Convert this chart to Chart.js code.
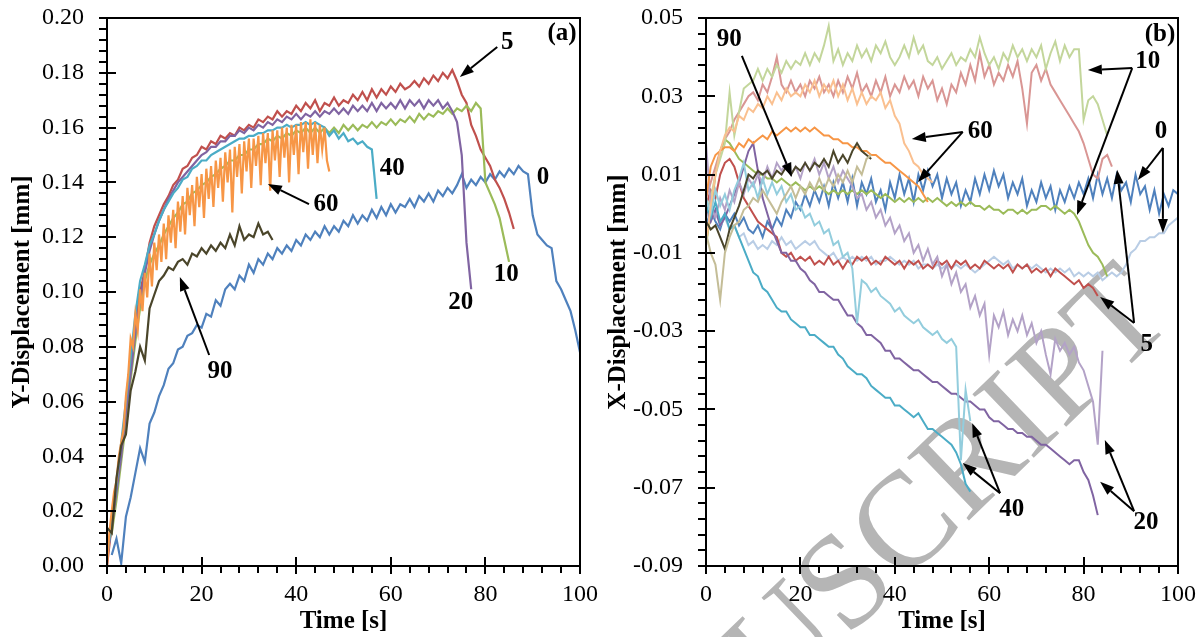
<!DOCTYPE html>
<html><head><meta charset="utf-8">
<script src="https://cdn.jsdelivr.net/npm/chart.js@4.4.1/dist/chart.umd.min.js"></script>
<style>
html,body{margin:0;padding:0;background:#fff;width:1204px;height:637px;overflow:hidden;}
canvas{position:absolute;top:0;}
#ca{left:0;}
#cb{left:598px;}
</style></head><body>
<canvas id="ca" width="600" height="637" style="width:600px;height:637px"></canvas>
<canvas id="cb" width="606" height="637" style="width:606px;height:637px"></canvas>
<script>
// ---------- sampling times [s] ----------
const time = [0,1,2,3,4,5,6,7,8,9,10,11,12,13,14,15,16,17,18,19,20,21,22,23,24,25,26,27,28,29,30,31,32,33,34,35,36,37,38,39,40,41,42,43,44,45,46,47,48,49,50,51,52,53,54,55,56,57,58,59,60,61,62,63,64,65,66,67,68,69,70,71,72,73,74,75,76,77,78,79,80,81,82,83,84,85,86,87,88,89,90,91,92,93,94,95,96,97,98,99,100];
// finer sampling used for the very noisy 60 s series of panel (a)
const timeHalf = [0,0.5,1,1.5,2,2.5,3,3.5,4,4.5,5,5.5,6,6.5,7,7.5,8,8.5,9,9.5,10,10.5,11,11.5,12,12.5,13,13.5,14,14.5,15,15.5,16,16.5,17,17.5,18,18.5,19,19.5,20,20.5,21,21.5,22,22.5,23,23.5,24,24.5,25,25.5,26,26.5,27,27.5,28,28.5,29,29.5,30,30.5,31,31.5,32,32.5,33,33.5,34,34.5,35,35.5,36,36.5,37,37.5,38,38.5,39,39.5,40,40.5,41,41.5,42,42.5,43,43.5,44,44.5,45,45.5,46,46.5,47];

// ---------- tick labels ----------
const xTicks = [0,20,40,60,80,100];
const yTicksA = [0,0.02,0.04,0.06,0.08,0.10,0.12,0.14,0.16,0.18,0.20];
const yTicksB = [-0.09,-0.07,-0.05,-0.03,-0.01,0.01,0.03,0.05];

// ---------- panel (a): Y-displacement [mm] ----------
const seriesA = ['0','5','10','20','40','60','90'];
const a0 = [null,0.004,0.010,0.001,0.018,0.025,0.034,0.043,0.038,0.052,
0.056,0.062,0.066,0.072,0.074,0.079,0.080,0.084,0.085,0.088,
0.087,0.092,0.091,0.097,0.095,0.101,0.103,0.101,0.106,0.104,
0.110,0.107,0.112,0.110,0.114,0.112,0.116,0.114,0.117,0.115,
0.119,0.117,0.121,0.119,0.122,0.120,0.124,0.121,0.124,0.122,
0.126,0.124,0.128,0.125,0.128,0.126,0.130,0.127,0.131,0.128,
0.132,0.129,0.132,0.131,0.134,0.131,0.135,0.133,0.136,0.133,
0.137,0.135,0.138,0.136,0.139,0.143,0.138,0.141,0.139,0.142,
0.140,0.143,0.141,0.144,0.142,0.145,0.143,0.146,0.144,0.143,
0.128,0.121,0.119,0.117,0.116,0.104,0.101,0.097,0.093,0.086,
0.078];
const a5 = [0.000,0.015,0.028,0.042,0.058,0.072,0.088,0.100,0.108,0.118,
0.124,0.128,0.132,0.135,0.139,0.141,0.145,0.146,0.149,0.150,
0.153,0.152,0.155,0.154,0.157,0.156,0.158,0.157,0.160,0.159,
0.161,0.160,0.163,0.162,0.164,0.163,0.166,0.164,0.166,0.165,
0.168,0.166,0.169,0.167,0.170,0.166,0.169,0.168,0.171,0.168,
0.170,0.169,0.172,0.170,0.173,0.170,0.174,0.171,0.174,0.172,
0.175,0.173,0.176,0.174,0.175,0.177,0.175,0.178,0.176,0.179,
0.177,0.180,0.178,0.181,0.177,0.172,0.169,0.161,0.157,0.152,
0.149,0.146,0.141,0.138,0.134,0.129,0.123];
const a10 = [0.008,0.012,0.024,0.038,0.052,0.068,0.082,0.094,0.104,0.110,
0.114,0.117,0.121,0.124,0.127,0.129,0.132,0.133,0.136,0.137,
0.139,0.140,0.142,0.143,0.145,0.146,0.148,0.148,0.150,0.150,
0.152,0.152,0.154,0.154,0.156,0.155,0.157,0.156,0.158,0.157,
0.159,0.158,0.160,0.158,0.160,0.158,0.160,0.158,0.160,0.158,
0.161,0.159,0.161,0.159,0.161,0.160,0.162,0.160,0.162,0.161,
0.163,0.161,0.163,0.162,0.164,0.162,0.165,0.163,0.165,0.164,
0.166,0.165,0.167,0.165,0.167,0.166,0.168,0.166,0.169,0.167,
0.140,0.136,0.132,0.127,0.119,0.111];
const a20 = [0.004,0.014,0.027,0.040,0.056,0.070,0.085,0.097,0.107,0.115,
0.121,0.126,0.130,0.134,0.137,0.140,0.142,0.144,0.146,0.148,
0.150,0.151,0.153,0.153,0.155,0.155,0.157,0.157,0.159,0.158,
0.160,0.159,0.161,0.160,0.162,0.161,0.163,0.162,0.164,0.163,
0.165,0.163,0.165,0.164,0.166,0.164,0.166,0.165,0.167,0.165,
0.167,0.165,0.168,0.166,0.168,0.166,0.169,0.166,0.169,0.167,
0.169,0.167,0.170,0.167,0.170,0.168,0.170,0.167,0.170,0.168,
0.170,0.167,0.169,0.166,0.162,0.150,0.118,0.101];
const a40 = [0.003,0.016,0.030,0.045,0.060,0.076,0.092,0.104,0.110,0.117,
0.121,0.126,0.130,0.133,0.136,0.138,0.141,0.142,0.145,0.146,
0.148,0.148,0.150,0.151,0.152,0.153,0.154,0.155,0.156,0.156,
0.157,0.157,0.158,0.158,0.159,0.159,0.160,0.160,0.161,0.160,
0.161,0.161,0.162,0.161,0.162,0.161,0.160,0.157,0.159,0.156,
0.158,0.155,0.156,0.154,0.155,0.153,0.152,0.134];
// 60 s series, sampled every 0.5 s (timeHalf)
const a60 = [0.000,0.012,0.020,0.027,0.031,0.040,0.045,0.050,0.062,0.070,
0.083,0.080,0.092,0.086,0.101,0.093,0.107,0.098,0.114,0.102,
0.118,0.108,0.121,0.111,0.125,0.112,0.128,0.118,0.130,0.116,
0.133,0.122,0.135,0.121,0.138,0.128,0.139,0.124,0.142,0.131,
0.143,0.127,0.145,0.134,0.146,0.131,0.148,0.138,0.149,0.133,
0.151,0.140,0.152,0.129,0.153,0.142,0.154,0.136,0.155,0.144,
0.156,0.138,0.156,0.146,0.157,0.139,0.158,0.147,0.158,0.137,
0.159,0.148,0.159,0.142,0.160,0.149,0.160,0.140,0.161,0.150,
0.161,0.143,0.162,0.151,0.162,0.145,0.163,0.150,0.162,0.147,
0.161,0.152,0.160,0.148,0.144];
const a90 = [0.014,0.012,0.032,0.044,0.048,0.064,0.071,0.080,0.075,0.094,
0.099,0.104,0.106,0.109,0.108,0.111,0.112,0.110,0.114,0.113,
0.116,0.114,0.117,0.115,0.118,0.116,0.121,0.117,0.124,0.119,
0.121,0.120,0.125,0.121,0.122,0.119];

// ---------- panel (b): X-displacement [mm] (two measuring points per case) ----------
const seriesB = ['0 (P1)','0 (P2)','5 (P1)','5 (P2)','10 (P1)','10 (P2)','20 (P1)','20 (P2)','40 (P1)','40 (P2)','60 (P1)','60 (P2)','90 (P1)','90 (P2)'];
const b0a = [-0.003,0.001,-0.002,-0.004,0.000,-0.002,0.000,-0.003,-0.001,-0.004,
-0.005,-0.003,-0.006,-0.002,-0.004,-0.001,-0.003,0.001,-0.001,0.003,
0.001,0.005,0.002,0.006,0.003,0.007,0.002,0.008,0.004,0.008,
0.003,0.009,0.002,0.008,0.005,0.009,0.003,0.006,0.001,0.008,
0.004,0.010,0.005,0.009,0.003,0.010,0.006,0.011,0.007,0.010,
0.004,0.009,0.005,0.008,0.002,0.006,0.003,0.009,0.005,0.010,
0.006,0.011,0.007,0.010,0.004,0.008,0.005,0.009,0.002,0.006,
0.003,0.008,0.004,0.007,0.001,0.006,0.003,0.007,0.004,0.008,
0.005,0.009,0.004,0.010,0.005,0.009,0.004,0.010,0.006,0.008,
0.003,0.010,0.005,0.007,0.001,0.006,0.000,0.005,0.002,0.006,
0.005];
const b0b = [0.000,-0.002,0.001,-0.003,-0.001,-0.004,-0.003,-0.006,-0.005,-0.008,
-0.007,-0.009,-0.008,-0.009,-0.007,-0.008,-0.006,-0.008,-0.007,-0.009,
-0.008,-0.007,-0.008,-0.007,-0.009,-0.010,-0.011,-0.010,-0.012,-0.011,
-0.012,-0.011,-0.012,-0.011,-0.012,-0.011,-0.013,-0.012,-0.012,-0.011,
-0.012,-0.013,-0.012,-0.013,-0.012,-0.014,-0.013,-0.013,-0.014,-0.013,
-0.014,-0.013,-0.014,-0.013,-0.014,-0.013,-0.014,-0.015,-0.014,-0.013,
-0.012,-0.011,-0.012,-0.013,-0.012,-0.014,-0.013,-0.014,-0.013,-0.014,
-0.013,-0.014,-0.015,-0.014,-0.015,-0.014,-0.015,-0.014,-0.016,-0.015,
-0.016,-0.015,-0.016,-0.015,-0.017,-0.016,-0.015,-0.016,-0.015,-0.013,
-0.010,-0.009,-0.007,-0.007,-0.006,-0.006,-0.005,-0.005,-0.003,-0.002,
-0.001];
const b5a = [0.002,0.006,0.004,0.010,0.013,0.014,0.012,0.008,0.004,0.002,
0.000,-0.002,-0.003,-0.004,-0.005,-0.006,-0.010,-0.011,-0.010,-0.012,
-0.011,-0.012,-0.011,-0.013,-0.012,-0.013,-0.011,-0.013,-0.012,-0.014,
-0.012,-0.013,-0.011,-0.012,-0.011,-0.013,-0.012,-0.013,-0.011,-0.012,
-0.013,-0.012,-0.014,-0.012,-0.013,-0.012,-0.014,-0.013,-0.014,-0.012,
-0.013,-0.012,-0.014,-0.012,-0.013,-0.012,-0.014,-0.013,-0.014,-0.012,
-0.013,-0.014,-0.013,-0.014,-0.013,-0.015,-0.013,-0.014,-0.013,-0.015,
-0.014,-0.015,-0.014,-0.016,-0.014,-0.015,-0.016,-0.017,-0.018,-0.017,
-0.019,-0.018,-0.019,-0.021];
const b5b = [0.004,0.008,0.012,0.016,0.019,0.021,0.024,0.026,0.028,0.030,
0.031,0.029,0.033,0.031,0.035,0.040,0.033,0.031,0.034,0.031,
0.033,0.030,0.034,0.032,0.035,0.031,0.033,0.030,0.034,0.031,
0.035,0.032,0.036,0.031,0.033,0.030,0.034,0.031,0.035,0.030,
0.033,0.031,0.035,0.032,0.034,0.030,0.035,0.032,0.034,0.029,
0.032,0.028,0.033,0.031,0.036,0.033,0.038,0.034,0.041,0.035,
0.038,0.033,0.036,0.034,0.038,0.035,0.039,0.032,0.023,0.036,
0.038,0.034,0.037,0.033,0.031,0.029,0.027,0.025,0.023,0.021,
0.018,0.014,0.010,0.009,0.014,0.015,0.012];
const b10a = [-0.008,0.000,0.010,0.016,0.019,0.018,0.016,0.014,0.013,0.012,
0.011,0.010,0.010,0.009,0.009,0.008,0.009,0.008,0.007,0.008,
0.007,0.006,0.007,0.006,0.007,0.006,0.005,0.006,0.005,0.006,
0.005,0.006,0.005,0.006,0.005,0.006,0.005,0.004,0.005,0.004,
0.003,0.004,0.003,0.004,0.003,0.004,0.003,0.004,0.003,0.004,
0.003,0.002,0.003,0.002,0.003,0.002,0.003,0.002,0.002,0.001,
0.002,0.001,0.001,0.000,0.001,0.001,0.000,0.001,0.000,0.001,
0.001,0.002,0.002,0.001,0.002,0.001,0.000,0.001,0.000,-0.002,
-0.005,-0.008,-0.010,-0.011,-0.013,-0.016];
const b10b = [0.000,0.004,0.010,0.014,0.018,0.031,0.020,0.026,0.032,0.033,
0.034,0.037,0.034,0.037,0.035,0.038,0.036,0.039,0.037,0.039,
0.038,0.041,0.038,0.041,0.039,0.043,0.048,0.039,0.042,0.038,
0.041,0.039,0.043,0.040,0.042,0.039,0.043,0.041,0.044,0.040,
0.038,0.040,0.043,0.040,0.045,0.041,0.043,0.039,0.038,0.040,
0.037,0.039,0.041,0.038,0.040,0.039,0.042,0.040,0.045,0.041,
0.038,0.040,0.037,0.041,0.039,0.043,0.040,0.042,0.039,0.042,
0.040,0.043,0.037,0.041,0.044,0.039,0.043,0.040,0.042,0.042,
0.024,0.029,0.030,0.028,0.024,0.020];
const b20a = [0.002,-0.002,0.001,-0.003,-0.001,0.002,0.005,0.008,0.012,0.016,
0.018,0.011,0.004,0.000,-0.004,-0.007,-0.010,-0.010,-0.012,-0.012,
-0.014,-0.015,-0.017,-0.018,-0.020,-0.020,-0.021,-0.022,-0.022,-0.024,
-0.026,-0.026,-0.028,-0.029,-0.031,-0.031,-0.032,-0.033,-0.035,-0.035,
-0.037,-0.037,-0.038,-0.039,-0.040,-0.040,-0.041,-0.042,-0.043,-0.043,
-0.044,-0.045,-0.046,-0.046,-0.047,-0.048,-0.048,-0.049,-0.050,-0.050,
-0.052,-0.053,-0.053,-0.054,-0.055,-0.055,-0.056,-0.056,-0.057,-0.057,
-0.058,-0.059,-0.059,-0.060,-0.061,-0.062,-0.063,-0.064,-0.063,-0.063,
-0.066,-0.068,-0.072,-0.077];
const b20b = [0.018,0.002,-0.001,0.004,0.001,0.006,0.003,0.008,0.005,0.009,
0.007,0.010,0.008,0.012,0.009,0.013,0.011,0.013,0.010,0.012,
0.009,0.013,0.011,0.014,0.010,0.013,0.009,0.012,0.008,0.011,
0.009,0.007,0.004,0.005,0.001,0.003,-0.001,0.001,-0.003,-0.001,
-0.005,-0.003,-0.007,-0.005,-0.010,-0.008,-0.012,-0.009,-0.013,-0.011,
-0.016,-0.013,-0.018,-0.015,-0.020,-0.018,-0.024,-0.021,-0.026,-0.023,
-0.036,-0.026,-0.029,-0.025,-0.031,-0.027,-0.030,-0.026,-0.031,-0.028,
-0.033,-0.030,-0.036,-0.041,-0.032,-0.035,-0.033,-0.036,-0.034,-0.038,
-0.040,-0.044,-0.048,-0.059,-0.035];
const b40a = [0.002,-0.001,0.003,-0.002,0.000,-0.004,-0.003,-0.006,-0.009,-0.012,
-0.015,-0.016,-0.019,-0.020,-0.022,-0.024,-0.025,-0.025,-0.027,-0.028,
-0.029,-0.029,-0.031,-0.031,-0.032,-0.033,-0.034,-0.034,-0.036,-0.037,
-0.039,-0.040,-0.041,-0.041,-0.042,-0.044,-0.045,-0.046,-0.047,-0.047,
-0.049,-0.049,-0.050,-0.051,-0.052,-0.051,-0.053,-0.055,-0.055,-0.056,
-0.057,-0.058,-0.059,-0.061,-0.064,-0.069,-0.071];
const b40b = [0.004,0.000,0.006,0.002,0.005,0.001,0.006,0.009,0.013,0.006,
0.008,0.004,0.009,0.005,0.008,0.005,0.007,0.003,0.005,0.001,
0.002,-0.001,0.000,-0.003,-0.002,-0.005,-0.004,-0.008,-0.007,-0.011,
-0.010,-0.014,-0.028,-0.017,-0.018,-0.020,-0.019,-0.021,-0.022,-0.023,
-0.025,-0.024,-0.026,-0.027,-0.028,-0.027,-0.029,-0.030,-0.031,-0.030,
-0.032,-0.033,-0.032,-0.034,-0.063,-0.045,-0.053];
const b60a = [0.004,0.012,0.015,0.016,0.017,0.017,0.016,0.018,0.017,0.019,
0.018,0.019,0.020,0.019,0.021,0.020,0.021,0.022,0.021,0.022,
0.021,0.022,0.021,0.022,0.021,0.020,0.020,0.019,0.019,0.018,
0.018,0.017,0.017,0.016,0.016,0.015,0.015,0.014,0.013,0.013,
0.012,0.011,0.010,0.009,0.008,0.007,0.005,0.003];
const b60b = [-0.008,0.002,0.010,0.016,0.020,0.022,0.021,0.025,0.024,0.027,
0.026,0.028,0.027,0.030,0.028,0.031,0.029,0.032,0.030,0.031,
0.030,0.033,0.031,0.034,0.030,0.033,0.031,0.034,0.030,0.033,
0.029,0.032,0.028,0.031,0.028,0.030,0.029,0.031,0.027,0.029,
0.025,0.023,0.018,0.016,0.013,0.012,0.010,0.009,0.008];
const b90a = [-0.002,-0.004,-0.003,-0.006,-0.009,-0.004,-0.001,0.002,0.006,0.010,
0.009,0.011,0.010,0.011,0.009,0.011,0.010,0.012,0.010,0.012,
0.011,0.013,0.011,0.013,0.012,0.014,0.012,0.016,0.013,0.015,
0.013,0.016,0.018,0.016,0.015,0.014];
const b90b = [-0.005,-0.010,-0.013,-0.022,-0.010,-0.006,-0.003,-0.002,0.001,0.002,
0.004,0.003,0.006,0.004,0.002,0.000,0.003,0.005,0.007,0.004,
0.007,0.005,0.008,0.006,0.009,0.006,0.009,0.007,0.010,0.008,
0.011,0.008,0.012,0.010,0.014,0.015];

// ---------- styles ----------
const colorsA = ['#4F81BD','#C0504D','#9BBB59','#8064A2','#4BACC6','#F79646','#4A452A'];
const colorsB = ['#4F81BD','#B9CDE5','#C0504D','#D99694','#9BBB59','#C3D69B','#8064A2','#B3A2C7','#4BACC6','#93CDDD','#F79646','#FAC090','#4A452A','#C4BD97'];
const SERIF = "'Liberation Serif','Times New Roman',serif";

function toPoints(vals, t){ return vals.map((v,i)=>({x: t[i], y: v})); }
function makeSets(names, arrays, times, colors, width){
  return arrays.map((arr,i)=>({
    label: names[i], data: toPoints(arr, times[i]), borderColor: colors[i], backgroundColor: colors[i],
    borderWidth: width, pointRadius: 0, tension: 0, fill: false, order: -i, spanGaps: false
  }));
}
function noPad(s){ s.paddingLeft = 0; s.paddingRight = 0; s.paddingTop = 0; s.paddingBottom = 0; }

// frame + major/minor ticks
const frameTicks = {
  id: 'frameTicks',
  afterDraw(chart, args, o){
    const {ctx, chartArea:{left,right,top,bottom}, scales:{x,y}} = chart;
    ctx.save();
    ctx.strokeStyle = '#000';
    ctx.lineWidth = 2;
    ctx.strokeRect(left, top, right-left, bottom-top);
    ctx.beginPath();
    const xs = o.xMajor, ys = o.yMajor;
    const xStep = (xs[1]-xs[0])/5, yStep = (ys[1]-ys[0])/5;
    const nx = Math.round((x.max-x.min)/xStep), ny = Math.round((y.max-y.min)/yStep);
    for (let k=0;k<=nx;k++){ const p = Math.round(x.getPixelForValue(x.min+k*xStep)); ctx.moveTo(p,bottom); ctx.lineTo(p,bottom+7); }
    for (const v of xs){ const p = Math.round(x.getPixelForValue(v)); ctx.moveTo(p,bottom-9); ctx.lineTo(p,bottom+8); }
    for (let k=0;k<=ny;k++){ const p = Math.round(y.getPixelForValue(y.min+k*yStep)); ctx.moveTo(left-8,p); ctx.lineTo(left,p); }
    for (const v of ys){ const p = Math.round(y.getPixelForValue(v)); ctx.moveTo(left-8,p); ctx.lineTo(left+9,p); }
    ctx.stroke();
    ctx.restore();
  }
};

// curve labels with arrows (positions in data units)
const notes = {
  id: 'notes',
  afterDraw(chart, args, o){
    const {ctx, scales:{x,y}} = chart;
    ctx.save();
    ctx.fillStyle = '#000'; ctx.strokeStyle = '#000'; ctx.lineWidth = 2;
    ctx.font = 'bold 25px ' + SERIF;
    ctx.textAlign = 'center'; ctx.textBaseline = 'middle';
    for (const it of o.items){
      for (const a of (it.arrows||[])){
        const x0 = x.getPixelForValue(a[0]), y0 = y.getPixelForValue(a[1]);
        const x1 = x.getPixelForValue(a[2]), y1 = y.getPixelForValue(a[3]);
        const ang = Math.atan2(y1-y0, x1-x0), L = 14, W = 5;
        const bx = x1 - L*Math.cos(ang), by = y1 - L*Math.sin(ang);
        ctx.beginPath(); ctx.moveTo(x0,y0); ctx.lineTo(bx,by); ctx.stroke();
        ctx.beginPath(); ctx.moveTo(x1,y1);
        ctx.lineTo(bx + W*Math.sin(ang), by - W*Math.cos(ang));
        ctx.lineTo(bx - W*Math.sin(ang), by + W*Math.cos(ang));
        ctx.closePath(); ctx.fill();
      }
      ctx.fillText(it.text, x.getPixelForValue(it.x), y.getPixelForValue(it.y));
    }
    ctx.restore();
  }
};

// faint "accepted manuscript" watermark
const watermark = {
  id: 'watermark',
  beforeDraw(chart, args, o){
    if (!o.text) return;
    const ctx = chart.ctx;
    ctx.save();
    ctx.translate(o.x, o.y);
    ctx.rotate(o.angle*Math.PI/180);
    ctx.font = o.size + 'px ' + SERIF;
    ctx.fillStyle = o.color;
    ctx.textBaseline = 'alphabetic';
    ctx.fillText(o.text, 0, 0);
    ctx.restore();
  }
};

function makeChart(id, datasets, yTicks, yTitle, yWidth, titlePad, padRight, noteItems, wm){
  return new Chart(document.getElementById(id), {
    type: 'line',
    data: { datasets },
    options: {
      responsive: false, animation: false, devicePixelRatio: 1,
      layout: { padding: { left: 0, top: 18, right: padRight, bottom: 0 } },
      plugins: {
        legend: { display: false }, tooltip: { enabled: false },
        frameTicks: { xMajor: xTicks, yMajor: yTicks },
        notes: { items: noteItems },
        watermark: wm || {}
      },
      scales: {
        x: {
          type: 'linear', min: 0, max: 100,
          grid: { display: false, drawTicks: false }, border: { display: false },
          afterBuildTicks: s => { s.ticks = xTicks.map(v => ({ value: v })); },
          afterFit: s => { s.height = 71; noPad(s); },
          ticks: { autoSkip: false, maxRotation: 0, padding: 14, color: '#000',
                   font: { family: SERIF, size: 24 }, callback: v => String(v) },
          title: { display: true, text: 'Time [s]', color: '#000', padding: 0,
                   font: { family: SERIF, size: 25, weight: 'bold' } }
        },
        y: {
          type: 'linear', min: yTicks[0], max: yTicks[yTicks.length-1],
          grid: { display: false, drawTicks: false }, border: { display: false },
          afterBuildTicks: s => { s.ticks = yTicks.map(v => ({ value: v })); },
          afterFit: s => { s.width = yWidth; noPad(s); },
          ticks: { autoSkip: false, padding: 23, color: '#000',
                   font: { family: SERIF, size: 24 }, callback: v => Number(v).toFixed(2) },
          title: { display: true, text: yTitle, color: '#000', padding: { top: titlePad, bottom: 0 },
                   font: { family: SERIF, size: 25, weight: 'bold' } }
        }
      }
    },
    plugins: [watermark, frameTicks, notes]
  });
}

const notesA = [
  { text: '5',  x: 84.6, y: 0.1912, arrows: [[82.5, 0.1894, 74.6, 0.1785]] },
  { text: '0',  x: 92.2, y: 0.1416 },
  { text: '40', x: 60.3, y: 0.1449 },
  { text: '10', x: 84.4, y: 0.1062 },
  { text: '20', x: 74.8, y: 0.0960 },
  { text: '60', x: 46.3, y: 0.1318, arrows: [[42.7, 0.1321, 34.0, 0.1394]] },
  { text: '90', x: 23.9, y: 0.0708, arrows: [[21.6, 0.0770, 15.4, 0.1055]] },
  { text: '(a)', x: 96.2, y: 0.1942 }
];
const notesB = [
  { text: '90', x: 4.9, y: 0.0444, arrows: [[7.6, 0.0403, 18.2, 0.0094]] },
  { text: '10', x: 93.6, y: 0.0388, arrows: [[90.3, 0.0372, 80.9, 0.0367], [90.3, 0.0372, 78.6, -0.0003]] },
  { text: '60', x: 58.1, y: 0.0209, arrows: [[54.4, 0.0209, 43.6, 0.0191], [54.4, 0.0209, 44.9, 0.0081]] },
  { text: '0',  x: 96.4, y: 0.0209, arrows: [[96.8, 0.0168, 91.5, 0.0086], [96.8, 0.0168, 96.8, -0.0049]] },
  { text: '5',  x: 93.4, y: -0.0333, arrows: [[90.7, -0.0279, 83.5, -0.0213], [90.7, -0.0279, 87.1, 0.0112]] },
  { text: '40', x: 64.8, y: -0.0755, arrows: [[62.3, -0.0714, 54.4, -0.0637], [62.3, -0.0714, 56.4, -0.0535]] },
  { text: '20', x: 93.2, y: -0.0788, arrows: [[90.7, -0.0760, 83.5, -0.0685], [90.7, -0.0760, 84.5, -0.0578]] },
  { text: '(b)', x: 96.2, y: 0.0457 }
];

makeChart('ca', makeSets(seriesA, [a0,a5,a10,a20,a40,a60,a90], [time,time,time,time,time,timeHalf,time], colorsA, 2.2),
  yTicksA, 'Y-Displacement [mm]', 107, 8, 20, notesA, null);
makeChart('cb', makeSets(seriesB, [b0a,b0b,b5a,b5b,b10a,b10b,b20a,b20b,b40a,b40b,b60a,b60b,b90a,b90b], seriesB.map(() => time), colorsB, 2),
  yTicksB, 'X-Displacement [mm]', 108, 6, 26, notesB,
  { text: 'MANUSCRIPT', x: -48, y: 925, angle: -44, size: 135, color: '#b5b5b5' });
</script>
</body></html>
